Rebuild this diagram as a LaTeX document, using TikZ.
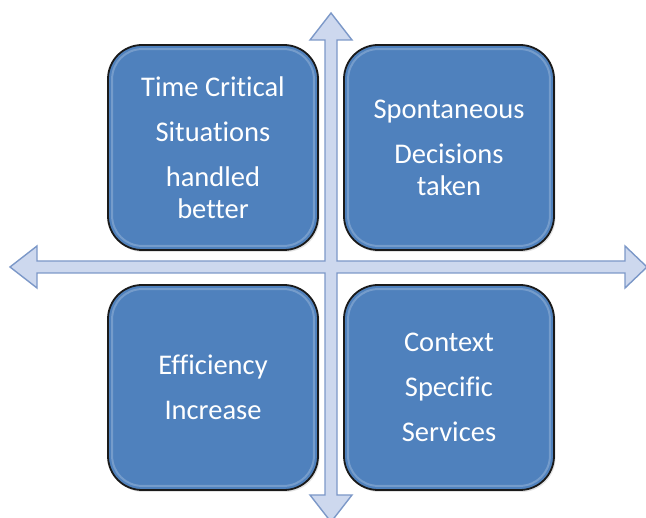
\documentclass[tikz,border=0pt]{standalone}
\usepackage{fontspec}
\setmainfont{Carlito}[Ligatures=NoCommon]
\usetikzlibrary{shadows}
\definecolor{boxblue}{HTML}{4F81BD}
\definecolor{boxrim}{HTML}{1A1A1A}
\definecolor{axisfill}{HTML}{CDD8EE}
\definecolor{axisline}{HTML}{7C98C8}
\tikzset{
  quadbox/.style={rounded corners=34pt, fill=boxblue, draw=boxrim, line width=1.8pt,
    minimum width=210pt, minimum height=205pt, inner sep=0pt, align=center,
    text=white, font=\fontsize{28.5}{32}\selectfont,
    drop shadow={opacity=0.22, shadow xshift=1.5pt, shadow yshift=-2pt}},
  gloss/.style={rounded corners=30pt, draw=white, draw opacity=0.22, line width=2pt},
  axis/.style={fill=axisfill, draw=axisline, line width=1.4pt, line join=miter}
}
\begin{document}
\begin{tikzpicture}[x=1pt,y=-1pt]
\useasboundingbox (0,0) rectangle (646,518);
% cross of double-headed arrows, drawn as one outline
\path[axis] (331,13) -- (352,40) -- (337,40) -- (337,261) -- (625,261) -- (625,246)
  -- (647,267) -- (625,288) -- (625,273) -- (337,273) -- (337,495) -- (352,495)
  -- (331,522) -- (310,495) -- (325,495) -- (325,273) -- (37,273) -- (37,288)
  -- (10,267) -- (37,246) -- (37,261) -- (325,261) -- (325,40) -- (310,40) -- cycle;
% quadrant boxes
\node[quadbox] (tl) at (213,147.5) {Time Critical\\[13pt]Situations\\[13pt]handled\\better};
\node[quadbox] (tr) at (449,147.5) {Spontaneous\\[13pt]Decisions\\taken};
\node[quadbox] (bl) at (213,387.5) {Efficiency\\[13pt]Increase};
\node[quadbox] (br) at (449,387.5) {Context\\[13pt]Specific\\[13pt]Services};
% soft inner highlight on each box
\foreach \b in {tl,tr,bl,br}{
  \draw[gloss] ([xshift=5pt,yshift=-5pt]\b.north west) rectangle ([xshift=-5pt,yshift=5pt]\b.south east);
}
\end{tikzpicture}
\end{document}
